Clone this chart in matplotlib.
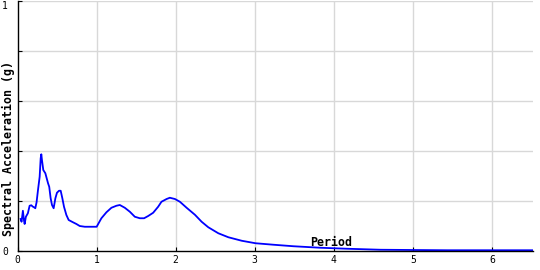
import matplotlib
matplotlib.use("Agg")
import matplotlib.pyplot as plt

# spectrum (period in s, acceleration in g)
period = [0.038, 0.05, 0.067, 0.08, 0.089, 0.105, 0.13, 0.152, 0.173, 0.19,
          0.207, 0.224, 0.24, 0.258, 0.279, 0.292, 0.30, 0.308, 0.325, 0.351,
          0.368, 0.385, 0.40, 0.418, 0.435, 0.456, 0.478, 0.498, 0.524, 0.545,
          0.566, 0.587, 0.617, 0.646, 0.70, 0.744, 0.786, 0.85, 0.95, 1.0,
          1.06, 1.124, 1.187, 1.25, 1.293, 1.356, 1.42, 1.483, 1.546, 1.60,
          1.652, 1.715, 1.778, 1.82, 1.885, 1.926, 1.99, 2.053, 2.138, 2.243,
          2.328, 2.412, 2.539, 2.666, 2.835, 3.01, 3.24, 3.49, 3.83, 4.17,
          4.59, 5.0, 5.43, 6.0, 6.52]
accel = [0.128, 0.117, 0.161, 0.124, 0.108, 0.137, 0.151, 0.181, 0.183, 0.178,
         0.175, 0.171, 0.195, 0.244, 0.297, 0.371, 0.387, 0.364, 0.324, 0.311,
         0.291, 0.271, 0.257, 0.211, 0.184, 0.171, 0.211, 0.233, 0.241, 0.241,
         0.211, 0.177, 0.144, 0.124, 0.115, 0.108, 0.100, 0.097, 0.097, 0.097,
         0.131, 0.155, 0.173, 0.181, 0.184, 0.173, 0.157, 0.137, 0.131, 0.131,
         0.14, 0.153, 0.177, 0.197, 0.208, 0.213, 0.208, 0.197, 0.173, 0.145,
         0.117, 0.095, 0.071, 0.055, 0.041, 0.031, 0.025, 0.019, 0.013, 0.009,
         0.005, 0.004, 0.003, 0.003, 0.003]

x_ticks = [0, 1, 2, 3, 4, 5, 6]
y_grid = [0.2, 0.4, 0.6, 0.8, 1.0]
y_labels = [0, 1]

MONO = "DejaVu Sans Mono"
W, H = 540, 270

fig = plt.figure(figsize=(W / 100, H / 100), dpi=100)
ax = fig.add_axes((17.6 / W, 19 / H, (533 - 17.6) / W, 250 / H))

ax.plot(period, accel, color="#0000ff", linewidth=1.3, zorder=3)

ax.set_xlim(0, 6.52)
ax.set_ylim(0, 1)

ax.set_xticks(x_ticks)
ax.set_xticklabels([str(t) for t in x_ticks], family=MONO, fontsize=7)
ax.set_yticks(y_labels)
ax.set_yticklabels([str(t) for t in y_labels], family=MONO, fontsize=7)
# keep the top "1" inside the canvas, as in the reference
ax.get_yticklabels()[-1].set_verticalalignment("top")
for y in y_grid:
    ax.axhline(y, color="#d8d8d8", linewidth=1, zorder=1)
for x in x_ticks[1:]:
    ax.axvline(x, color="#d8d8d8", linewidth=1, zorder=1)
ax.set_yticks(y_grid, minor=True)

ax.tick_params(axis="both", direction="in", length=3, width=0.8, pad=3)
ax.tick_params(axis="y", which="minor", direction="in", length=3, width=0.8)
ax.tick_params(axis="y", pad=7)

for side in ("top", "right"):
    ax.spines[side].set_visible(False)
for side in ("left", "bottom"):
    ax.spines[side].set_linewidth(1)
    ax.spines[side].set_zorder(4)

ax.text(3.96, 0.035, "Period", family=MONO, fontweight="bold", fontsize=8.4,
        ha="center", va="center", zorder=5)
fig.text(8.5 / W, 1 - 148 / H, "Spectral Acceleration (g)", family=MONO,
         fontweight="bold", fontsize=8.4, rotation=90, ha="center", va="center")

fig.savefig("out.png", dpi=100)
